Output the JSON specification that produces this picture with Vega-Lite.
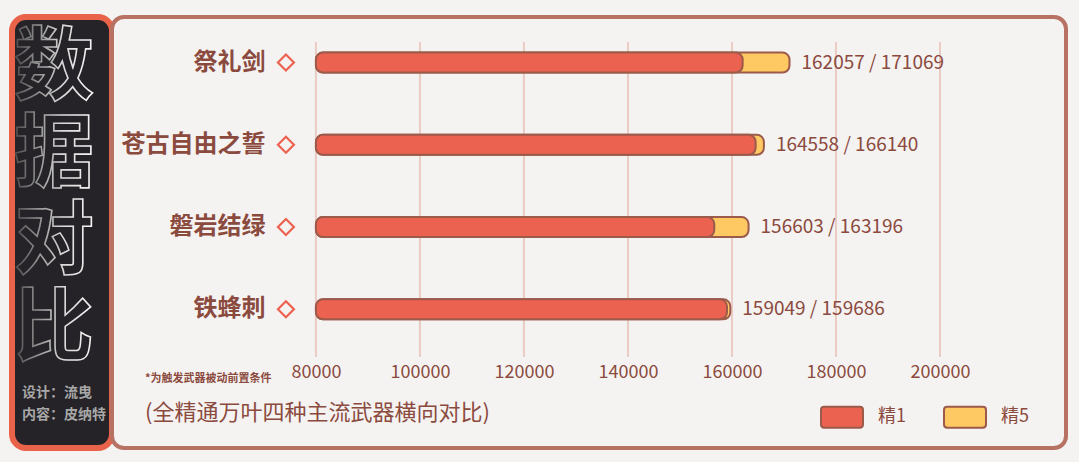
{
  "$schema": "https://vega.github.io/schema/vega-lite/v6.json",
  "background": "#f5f3f1",
  "padding": {"left": 9, "top": 14, "right": 11, "bottom": 14},
  "bounds": "flush",
  "spacing": 0,
  "datasets": {
    "weapons": [
      {"weapon": "祭礼剑", "r1": 162057, "r5": 171069},
      {"weapon": "苍古自由之誓", "r1": 164558, "r5": 166140},
      {"weapon": "磐岩结绿", "r1": 156603, "r5": 163196},
      {"weapon": "铁蜂刺", "r1": 159049, "r5": 159686}
    ],
    "ticks": [
      {"v": 80000}, {"v": 100000}, {"v": 120000}, {"v": 140000},
      {"v": 160000}, {"v": 180000}, {"v": 200000}
    ],
    "panel": [
      {"char": "数"},
      {"char": "据"},
      {"char": "对"},
      {"char": "比"}
    ]
  },
  "hconcat": [
    {
      "width": 100,
      "height": 431,
      "view": {"fill": "#252327", "stroke": "#e8634a", "strokeWidth": 6, "cornerRadius": 14},
      "data": {"name": "panel"},
      "title": {
        "text": ["设计：流曳", "内容：皮纳特"],
        "orient": "bottom",
        "anchor": "start",
        "frame": "group",
        "baseline": "top",
        "dx": 10,
        "offset": -62,
        "lineHeight": 22,
        "fontSize": 14,
        "fontWeight": "bold",
        "color": "#a8a8a8"
      },
      "mark": {
        "type": "text",
        "fontSize": 80,
        "fontWeight": "bold",
        "dx": -8,
        "fill": "#252327",
        "strokeWidth": 1.6,
        "stroke": {
          "gradient": "linear",
          "x1": 0, "y1": 0, "x2": 1, "y2": 0,
          "stops": [
            {"offset": 0, "color": "#4a4a4a"},
            {"offset": 0.6, "color": "#d8d8d8"},
            {"offset": 1, "color": "#f6f6f6"}
          ]
        }
      },
      "encoding": {
        "y": {
          "field": "char",
          "type": "nominal",
          "sort": null,
          "scale": {"type": "point", "range": [52, 313], "padding": 0},
          "axis": null
        },
        "text": {"field": "char"}
      }
    },
    {
      "width": 954,
      "height": 431,
      "view": {"fill": "#f5f3f1", "stroke": "#b87264", "strokeWidth": 4, "cornerRadius": 12},
      "data": {"name": "weapons"},
      "title": {
        "text": "*为触发武器被动前置条件",
        "subtitle": "(全精通万叶四种主流武器横向对比)",
        "orient": "bottom",
        "anchor": "start",
        "frame": "group",
        "baseline": "top",
        "dx": 33,
        "offset": -75,
        "fontSize": 11,
        "fontWeight": "bold",
        "color": "#8b4a3e",
        "subtitleFontSize": 22,
        "subtitleColor": "#8b4a3e",
        "subtitlePadding": 19
      },
      "layer": [
        {
          "data": {"name": "ticks"},
          "mark": {"type": "rule", "color": "#e9cbc4", "strokeWidth": 2},
          "encoding": {
            "x": {"field": "v", "type": "quantitative"},
            "y": {"datum": 0, "type": "quantitative", "scale": {"domain": [0, 1], "range": [25, 340]}, "axis": null},
            "y2": {"datum": 1}
          }
        },
        {
          "encoding": {
            "y": {
              "field": "weapon",
              "type": "nominal",
              "sort": null,
              "scale": {"type": "band", "range": [25, 340], "paddingInner": 0.5, "paddingOuter": 0.165, "align": 0},
              "axis": {
                "title": null,
                "orient": "left",
                "offset": -206,
                "domain": false,
                "ticks": false,
                "grid": false,
                "labelPadding": 53,
                "labelFontSize": 24,
                "labelFontWeight": "bold",
                "labelColor": "#8b4a3e"
              }
            }
          },
          "layer": [
            {
              "transform": [{"fold": ["r5", "r1"], "as": ["level", "value"]}],
              "mark": {"type": "bar", "height": 20, "stroke": "#9c5a4b", "strokeWidth": 2, "cornerRadiusEnd": 7},
              "encoding": {
                "x": {
                  "field": "value",
                  "type": "quantitative",
                  "stack": null,
                  "scale": {"domain": [40785, 224235], "nice": false, "zero": false},
                  "axis": {
                    "title": null,
                    "orient": "bottom",
                    "offset": -91,
                    "values": [80000, 100000, 120000, 140000, 160000, 180000, 200000],
                    "format": "d",
                    "grid": false,
                    "domain": false,
                    "ticks": false,
                    "labelPadding": 6,
                    "labelFontSize": 18,
                    "labelColor": "#8b4a3e"
                  }
                },
                "x2": {"datum": 80000},
                "color": {
                  "field": "level",
                  "type": "nominal",
                  "scale": {"domain": ["r1", "r5"], "range": ["#ec6250", "#fec963"]},
                  "legend": {
                    "title": null,
                    "orient": "none",
                    "legendX": 708,
                    "legendY": 378,
                    "direction": "horizontal",
                    "padding": 0,
                    "labelExpr": "datum.label == 'r1' ? '精1' : '精5'",
                    "symbolType": "M-0.85,-0.5H0.85Q1,-0.5 1,-0.35V0.35Q1,0.5 0.85,0.5H-0.85Q-1,0.5 -1,0.35V-0.35Q-1,-0.5 -0.85,-0.5Z",
                    "symbolSize": 1764,
                    "symbolStrokeColor": "#9c5a4b",
                    "symbolStrokeWidth": 2,
                    "symbolOpacity": 1,
                    "labelFontSize": 18,
                    "labelColor": "#8b4a3e",
                    "labelOffset": 14,
                    "columnPadding": 34
                  }
                }
              }
            },
            {
              "transform": [{"calculate": "datum.r1 + ' / ' + datum.r5", "as": "label"}],
              "mark": {"type": "text", "align": "left", "dx": 12, "fontSize": 19, "color": "#8b4a3e"},
              "encoding": {
                "x": {"field": "r5", "type": "quantitative"},
                "text": {"field": "label"}
              }
            },
            {
              "mark": {"type": "point", "shape": "diamond", "filled": false, "size": 256, "strokeWidth": 2.2, "color": "#ec6150", "opacity": 1},
              "encoding": {
                "x": {"datum": 80000, "type": "quantitative"},
                "xOffset": {"value": -30}
              }
            }
          ]
        }
      ],
      "resolve": {"scale": {"y": "independent"}, "axis": {"y": "independent"}}
    }
  ],
  "resolve": {
    "scale": {"x": "independent", "y": "independent", "color": "independent"},
    "legend": {"color": "independent"}
  },
  "config": {
    "font": "Noto Sans CJK SC",
    "axis": {"labelFont": "Noto Sans CJK SC"},
    "legend": {"labelFont": "Noto Sans CJK SC"},
    "title": {"font": "Noto Sans CJK SC", "subtitleFont": "Noto Sans CJK SC"},
    "text": {"font": "Noto Sans CJK SC"}
  }
}
